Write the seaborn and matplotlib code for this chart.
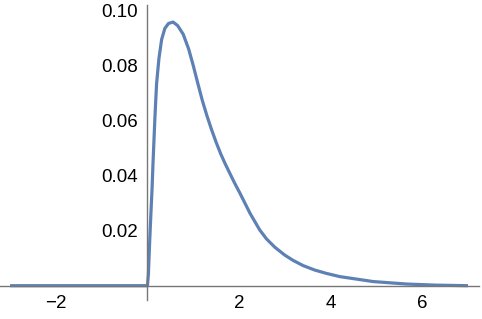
import matplotlib
matplotlib.use("Agg")
import matplotlib.pyplot as plt
import seaborn as sns
import pandas as pd
from matplotlib.ticker import FixedLocator, MultipleLocator, FormatStrFormatter

# values
x_vals = [-3.0, 0.0, 0.02, 0.05, 0.08, 0.10, 0.12, 0.14, 0.16, 0.18, 0.20, 0.25, 0.31,
          0.38, 0.46, 0.56, 0.66, 0.78, 0.90, 1.00, 1.10, 1.20, 1.30, 1.40, 1.50,
          1.60, 1.70, 1.80, 1.90, 2.02, 2.24, 2.45, 2.60, 2.78, 3.00, 3.18, 3.40,
          3.65, 3.90, 4.20, 4.93, 5.66, 6.30, 7.0]
y_vals = [0.0, 0.0, 0.004, 0.0166, 0.028, 0.035, 0.044, 0.052, 0.060, 0.067, 0.0735, 0.0825, 0.0895,
          0.0935, 0.0953, 0.0958, 0.0945, 0.0914, 0.0860, 0.0800, 0.0735, 0.0672, 0.0617, 0.0567, 0.0521,
          0.0479, 0.0442, 0.0408, 0.0374, 0.0336, 0.0263, 0.0203, 0.0170, 0.0140, 0.0111, 0.0092, 0.0073,
          0.0057, 0.0045, 0.0033, 0.0015, 0.0006, 0.0002, 0.0]
x_ticks = [-2, 2, 4, 6]
y_ticks = [0.02, 0.04, 0.06, 0.08, 0.10]

sns.set_style("white")
plt.rcParams['font.family'] = ['Liberation Sans', 'DejaVu Sans']

df = pd.DataFrame({"x": x_vals, "y": y_vals})

fig = plt.figure(figsize=(4.82, 3.19), dpi=100)
ax = fig.add_axes([0.0, 19/319, 479/482, 295/319])
sns.lineplot(data=df, x="x", y="y", ax=ax, color="#5E81B5", linewidth=2.3, sort=False,
             solid_joinstyle="round", solid_capstyle="butt")

ax.set_xlim(-3.22, 7.24)
ax.set_ylim(-0.0052, 0.102)
ax.set_xlabel("")
ax.set_ylabel("")

axis_col = "#777777"
for s in ["top", "right"]:
    ax.spines[s].set_visible(False)
ax.spines["left"].set_position(("data", 0))
ax.spines["bottom"].set_position(("data", 0))
for s in ["left", "bottom"]:
    ax.spines[s].set_color(axis_col)
    ax.spines[s].set_linewidth(1.0)

ax.xaxis.set_major_locator(FixedLocator(x_ticks))
ax.yaxis.set_major_locator(FixedLocator(y_ticks))
ax.xaxis.set_minor_locator(MultipleLocator(0.5))
ax.yaxis.set_minor_locator(MultipleLocator(0.005))
ax.yaxis.set_major_formatter(FormatStrFormatter("%.2f"))

ax.tick_params(axis="both", which="major", direction="in", length=4, width=1,
               color=axis_col, labelsize=13.5, labelcolor="black")
ax.tick_params(axis="both", which="minor", direction="in", length=2.5, width=0.8,
               color=axis_col)
ax.tick_params(axis="x", which="major", pad=7)
ax.tick_params(axis="y", which="major", pad=7)

fig.savefig("out.png", dpi=100)
